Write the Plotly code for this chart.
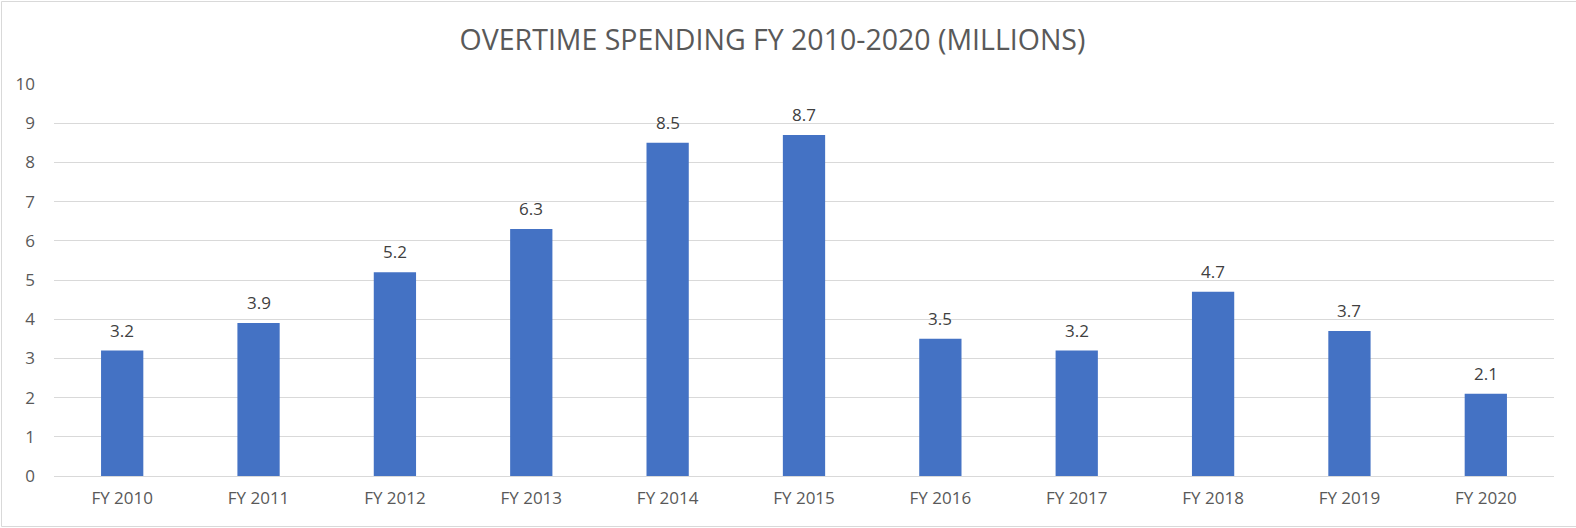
import plotly.graph_objects as go

categories = ["FY 2010", "FY 2011", "FY 2012", "FY 2013", "FY 2014", "FY 2015",
              "FY 2016", "FY 2017", "FY 2018", "FY 2019", "FY 2020"]
values = [3.2, 3.9, 5.2, 6.3, 8.5, 8.7, 3.5, 3.2, 4.7, 3.7, 2.1]
y_ticks = [0, 1, 2, 3, 4, 5, 6, 7, 8, 9, 10]
title_text = "OVERTIME SPENDING FY 2010-2020 (MILLIONS)"

W, H = 1576, 528
L, R, T, B = 54, 22, 84, 52
pw, ph = W - L - R, H - T - B

fig = go.Figure(go.Bar(
    x=categories, y=values,
    marker=dict(color="#4472C4", line=dict(width=0)),
    width=0.31,
    hoverinfo="x+y",
))

for c, v in zip(categories, values):
    fig.add_annotation(x=c, y=v, xref="x", yref="y", text=f"{v:.1f}",
                       showarrow=False, yanchor="bottom", yshift=7,
                       font=dict(family="Open Sans", size=17, color="#404040"))

def px_x(x):
    return (x - L) / pw

def px_y(y):
    return (H - B - y) / ph

fig.add_shape(type="rect", xref="paper", yref="paper",
              x0=px_x(1.5), x1=px_x(1578), y0=px_y(526.5), y1=px_y(1.5),
              line=dict(color="#D9D9D9", width=1), fillcolor="rgba(0,0,0,0)",
              layer="below")

fig.update_layout(
    width=W, height=H,
    margin=dict(l=L, r=R, t=T, b=B, pad=0),
    paper_bgcolor="white", plot_bgcolor="white",
    title=dict(text=title_text, x=(772.5 - L) / pw, xref="paper", xanchor="center",
               y=1 - 40.0 / H, yref="container", yanchor="middle",
               font=dict(family="Open Sans", size=28.5, color="#595959")),
    showlegend=False,
    bargap=0.69,
    xaxis=dict(showgrid=False, showline=False, zeroline=False, ticks="",
               tickfont=dict(family="Open Sans", size=17, color="#595959"),
               ticklabelstandoff=10),
    yaxis=dict(range=[0, 10], tickvals=y_ticks, showgrid=True,
               gridcolor="#D9D9D9", gridwidth=1, zeroline=True,
               zerolinecolor="#D9D9D9", zerolinewidth=1, showline=False,
               ticks="", tickfont=dict(family="Open Sans", size=17, color="#595959"),
               ticklabelstandoff=18),
)

fig.write_html("out.html")
